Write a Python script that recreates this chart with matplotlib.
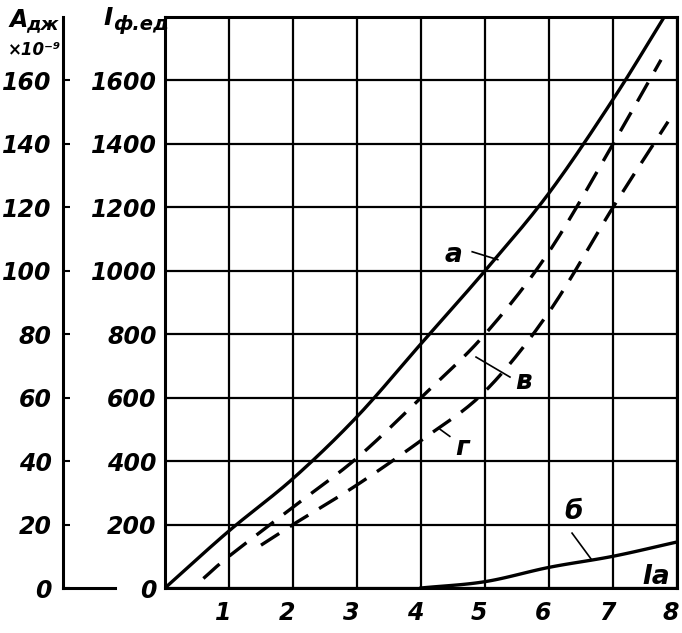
import numpy as np
import matplotlib
matplotlib.use('Agg')
import matplotlib.pyplot as plt
import matplotlib.transforms as mtransforms

plt.rcParams['font.family'] = ['DejaVu Sans']
plt.rcParams['font.style'] = 'italic'
plt.rcParams['font.weight'] = 'bold'

# curve а (solid)
xa = [0, 1, 2, 3, 4, 5, 6, 7, 7.8]
ya = [0, 180, 345, 540, 770, 1000, 1245, 1540, 1800]
# curve в (dashed, upper)
xv = [0.6, 1, 2, 3, 4, 5, 6, 7, 7.75]
yv = [30, 100, 255, 410, 600, 800, 1060, 1400, 1665]
# curve г (dashed, lower)
xg = [1.5, 2, 3, 4, 5, 6, 7, 7.86]
yg = [135, 200, 325, 465, 620, 870, 1200, 1470]
# curve б (solid, bottom)
xb = [4, 5, 6, 7, 8]
yb = [0, 20, 65, 100, 145]

x_ticks = [1, 2, 3, 4, 5, 6, 7, 8]
i_ticks = [0, 200, 400, 600, 800, 1000, 1200, 1400, 1600]
a_ticks = [0, 20, 40, 60, 80, 100, 120, 140, 160]


def smooth(x, y, n=20):
    # Catmull-Rom through the read points, only for drawing
    x = np.asarray(x, float)
    y = np.asarray(y, float)
    px = np.concatenate([[2 * x[0] - x[1]], x, [2 * x[-1] - x[-2]]])
    py = np.concatenate([[2 * y[0] - y[1]], y, [2 * y[-1] - y[-2]]])
    t = np.linspace(0, 1, n)[:-1]
    ox, oy = [], []
    for i in range(1, len(px) - 2):
        for p, o in ((px, ox), (py, oy)):
            p0, p1, p2, p3 = p[i - 1], p[i], p[i + 1], p[i + 2]
            o.extend(0.5 * (2 * p1 + (-p0 + p2) * t
                            + (2 * p0 - 5 * p1 + 4 * p2 - p3) * t ** 2
                            + (-p0 + 3 * p1 - 3 * p2 + p3) * t ** 3))
    ox.append(x[-1])
    oy.append(y[-1])
    return ox, oy


W, H = 682, 633
fig = plt.figure(figsize=(W / 100, H / 100), dpi=100)

ax = fig.add_axes([165 / W, 45 / H, 512 / W, 571 / H])
ax.set_xlim(0, 8)
ax.set_ylim(0, 1800)
ax.set_xticks(range(0, 9))
ax.set_xticklabels([''] + [str(t) for t in x_ticks])
ax.set_yticks(range(0, 1801, 200))
ax.set_yticklabels([str(t) for t in i_ticks] + [''])
ax.tick_params(length=0, labelsize=17)
ax.tick_params(axis='y', pad=6)
ax.tick_params(axis='x', pad=9)
shift = mtransforms.ScaledTranslation(-6 / 100, 0, fig.dpi_scale_trans)
for lab in ax.get_xticklabels():
    lab.set_transform(lab.get_transform() + shift)
ax.grid(True, color='black', linewidth=1.6)
for s in ax.spines.values():
    s.set_linewidth(2.2)

ax.plot(*smooth(xa, ya), color='black', lw=2.4)
ax.plot(*smooth(xv, yv), color='black', lw=2.4, linestyle=(0, (6.5, 3.8)))
ax.plot(*smooth(xg, yg), color='black', lw=2.4, linestyle=(0, (6.5, 3.8)))
ax.plot(*smooth(xb, yb), color='black', lw=2.4)

# curve labels with leaders
txt = dict(fontsize=19, color='black', ha='center', va='center')
ax.text(4.5, 1050, 'а', **txt)
ax.plot([4.8, 5.2], [1060, 1035], color='black', lw=1.2)
ax.text(5.6, 650, 'в', **txt)
ax.plot([5.39, 4.86], [665, 728], color='black', lw=1.2)
ax.text(4.65, 440, 'г', **txt)
ax.plot([4.45, 4.3], [478, 500], color='black', lw=1.2)
ax.text(6.38, 240, 'б', **txt)
ax.plot([6.36, 6.67], [173, 88], color='black', lw=1.2)
ax.text(7.68, 35, 'Iа', **txt)

# second (left) scale
ax2 = fig.add_axes([63 / W, 45 / H, 52 / W, 571 / H])
ax2.set_ylim(0, 180)
ax2.set_xlim(0, 1)
ax2.set_yticks(a_ticks)
ax2.set_yticklabels([str(t) for t in a_ticks])
ax2.set_xticks([])
ax2.tick_params(axis='y', direction='in', length=5, width=1.5, labelsize=17, pad=8)
ax2.spines['top'].set_visible(False)
ax2.spines['right'].set_visible(False)
ax2.spines['left'].set_linewidth(2.2)
ax2.spines['bottom'].set_linewidth(2.2)
ax2.patch.set_alpha(0)

# axis titles
fig.text(10 / W, 1 - 20 / H, 'A', fontsize=17, va='center', ha='left')
fig.text(26 / W, 1 - 24 / H, 'дж', fontsize=13, va='center', ha='left')
fig.text(8 / W, 1 - 50 / H, '×10⁻⁹', fontsize=12, va='center', ha='left')
fig.text(103 / W, 1 - 18 / H, 'I', fontsize=18, va='center', ha='left')
fig.text(113 / W, 1 - 24 / H, 'ф.ед', fontsize=14, va='center', ha='left')

fig.savefig('out.png', dpi=100)
